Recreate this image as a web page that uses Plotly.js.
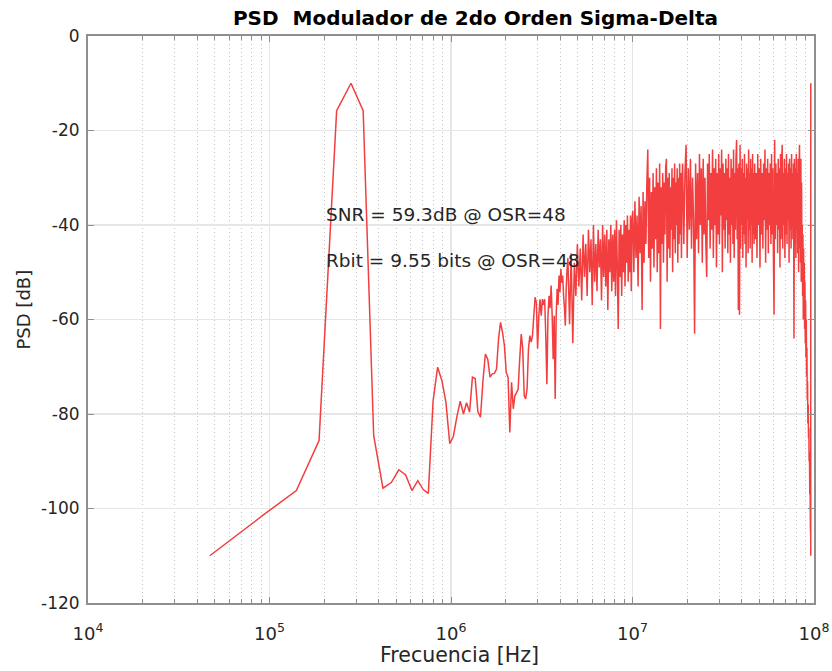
<!DOCTYPE html>
<html>
<head>
<meta charset="utf-8">
<script src="https://cdn.plot.ly/plotly-3.0.1.min.js"></script>
<style>
  html, body { margin: 0; padding: 0; background: #ffffff; }
  #chart { width: 832px; height: 671px; }
</style>
</head>
<body>
<div id="chart"></div>
<script>
// FFT setup of the simulated modulator output: fs = 192 MHz, 4096 points
const FS = 192e6;
const NFFT = 4096;
const BIN_HZ = FS / NFFT;

// PSD values in dB, grouped by FFT bin ranges
// bins 1..93 (signal tone and shaped noise up to ~4.4 MHz)
const inBandDb = [
  -110.0, -101.2, -96.2, -85.6, -15.8, -10.0, -15.8, -84.6, -95.7, -94.5,
  -91.8, -92.9, -96.2, -94.1, -96.0, -96.8, -77.2, -70.1, -72.9, -77.5,
  -86.3, -84.7, -80.5, -77.3, -80.0, -77.6, -79.6, -72.2, -72.5, -79.5,
  -80.7, -73.0, -67.3, -68.4, -72.2, -71.5, -71.4, -70.5, -64.1, -60.6,
  -62.7, -65.5, -71.2, -72.2, -83.9, -73.3, -78.9, -76.1, -75.5, -74.7,
  -68.4, -63.1, -66.2, -76.1, -76.8, -74.7, -66.2, -63.4, -64.8, -63.4,
  -59.2, -55.3, -56.4, -66.2, -59.2, -55.7, -59.2, -55.7, -56.9, -55.7,
  -63.4, -73.7, -59.2, -55.0, -57.6, -52.8, -59.2, -68.4, -59.2, -76.8,
  -59.2, -53.5, -56.9, -50.7, -54.2, -49.3, -52.2, -50.7, -55.0, -57.6,
  -61.3, -53.5, -49.3
];
// bins 94..212, every 2nd bin
const transitionDb = [
  -47, -61, -46, -65, -48, -55, -44, -53, -45, -56,
  -42, -51, -44, -55, -41, -50, -43, -57, -40, -52,
  -44, -54, -41, -49, -43, -56, -40, -51, -42, -53,
  -41, -58, -43, -50, -40, -54, -42, -52, -41, -55,
  -39, -49, -62, -41, -51, -40, -55, -42, -50, -39,
  -53, -40, -48, -38, -52, -41, -50, -38, -54, -39
];
// bins 214..400, every 3rd bin
const bandADb = [
  -37, -50, -35, -47, -38, -53, -34, -46, -36, -58,
  -33, -48, -35, -44, -31, -24, -47, -30, -52, -33,
  -45, -29, -49, -32, -43, -28, -50, -31, -46, -27,
  -62, -32, -44, -29, -48, -31, -42, -28, -26, -52,
  -30, -45, -29, -47, -32, -41, -28, -50, -30, -43,
  -27, -46, -31, -40, -28, -48, -30, -44, -27, -42,
  -29, -47, -30
];
// bins 403..997, every 6th bin
const bandBDb = [
  -27, -44, -29, -23, -47, -28, -41, -26, -45, -30,
  -39, -63, -27, -43, -29, -46, -25, -40, -28, -48,
  -26, -42, -30, -44, -51, -27, -39, -25, -45, -29,
  -41, -24, -47, -28, -40, -26, -49, -29, -42, -25,
  -44, -28, -38, -24, -50, -27, -41, -29, -45, -26,
  -39, -28, -46, -25, -42, -30, -48, -26, -40, -28,
  -44, -24, -47, -29, -41, -26, -22, -43, -28, -58,
  -27, -59, -23, -45, -28, -40, -26, -47, -29, -42,
  -25, -44, -30, -49, -27, -39, -28, -46, -24, -41,
  -29, -45, -26, -40, -28, -48, -25, -42, -29, -44
];
// bins 1005..1785, every 10th bin
const bandCDb = [
  -27, -43, -29, -47, -25, -40, -28, -49, -26, -42,
  -29, -45, -27, -39, -24, -48, -28, -41, -26, -46,
  -29, -40, -27, -44, -25, -42, -28, -47, -59, -22,
  -43, -27, -40, -29, -46, -26, -41, -28, -49, -25,
  -43, -27, -23, -45, -29, -40, -26, -47, -28, -42,
  -25, -44, -29, -39, -27, -48, -26, -41, -28, -45,
  -25, -43, -29, -40, -27, -64, -26, -44, -28, -47,
  -25, -41, -29, -46, -26, -50, -28, -23, -45
];
// bins 1790..2046, every 8th bin (roll-off towards fs/2)
const rolloffDb = [
  -27, -48, -26, -52, -31, -47, -40, -55, -42, -60,
  -45, -58, -48, -62, -52, -65, -56, -68, -60, -72,
  -66, -77, -73, -82, -78, -85, -83, -90, -88, -97,
  -95, -104, -106
];
// bins 2047, 2048
const nyquistDb = [-110, -10];

const segments = [
  { start: 1,    step: 1,  db: inBandDb },
  { start: 94,   step: 2,  db: transitionDb },
  { start: 214,  step: 3,  db: bandADb },
  { start: 403,  step: 6,  db: bandBDb },
  { start: 1005, step: 10, db: bandCDb },
  { start: 1790, step: 8,  db: rolloffDb },
  { start: 2047, step: 1,  db: nyquistDb }
];

const freqHz = [];
const psdDb = [];
segments.forEach(seg => {
  seg.db.forEach((v, i) => {
    freqHz.push((seg.start + i * seg.step) * BIN_HZ);
    psdDb.push(v);
  });
});

const xTickVals = [1e4, 1e5, 1e6, 1e7, 1e8];
const xTickText = ['10<sup>4</sup>', '10<sup>5</sup>', '10<sup>6</sup>', '10<sup>7</sup>', '10<sup>8</sup>'];
const yTickVals = [-120, -100, -80, -60, -40, -20, 0];
const yTickText = ['-120', '-100', '-80', '-60', '-40', '-20', '0'];
const snrText = 'SNR = 59.3dB @ OSR=48';
const rbitText = 'Rbit = 9.55 bits @ OSR=48';

// minor decade subdivisions 2..9 for the log axis
const minorVals = [];
for (let d = 4; d < 8; d++) {
  for (let m = 2; m <= 9; m++) minorVals.push(m * Math.pow(10, d));
}

const TXT = '#262626';
const FRAME = '#8f8f8f';

const trace = {
  x: freqHz,
  y: psdDb,
  type: 'scatter',
  mode: 'lines',
  line: { color: 'rgb(242,62,62)', width: 1.5, simplify: false },
  hoverinfo: 'x+y'
};

const layout = {
  width: 832,
  height: 671,
  paper_bgcolor: '#ffffff',
  plot_bgcolor: '#ffffff',
  margin: { l: 88, r: 18, t: 36, b: 68 },
  showlegend: false,
  title: {
    text: 'PSD\u00a0 Modulador de 2do Orden Sigma-Delta',
    font: { family: 'DejaVu Sans', size: 20, color: '#000000', weight: 'bold' },
    xref: 'container', yref: 'container',
    x: 0.5715, y: 0.973, xanchor: 'center', yanchor: 'middle'
  },
  xaxis: {
    type: 'log',
    range: [4, 8],
    tickmode: 'array',
    tickvals: xTickVals,
    ticktext: xTickText,
    ticks: 'inside',
    ticklen: 6,
    tickwidth: 1,
    tickcolor: FRAME,
    showline: true,
    linecolor: FRAME,
    linewidth: 2,
    mirror: 'ticks',
    showgrid: true,
    gridcolor: '#e6e6e6',
    gridwidth: 1.5,
    zeroline: false,
    ticklabelstandoff: 13,
    tickfont: { family: 'DejaVu Sans', size: 18, color: TXT },
    minor: {
      tickmode: 'array',
      tickvals: minorVals,
      ticks: 'inside',
      ticklen: 4,
      tickcolor: FRAME,
      showgrid: true,
      gridcolor: '#c4c4c4',
      griddash: '1px,3px',
      gridwidth: 1
    }
  },
  yaxis: {
    range: [-120, 0],
    tickmode: 'array',
    tickvals: yTickVals,
    ticktext: yTickText,
    ticks: 'inside',
    ticklen: 6,
    tickcolor: FRAME,
    showline: true,
    linecolor: FRAME,
    linewidth: 2,
    mirror: 'ticks',
    showgrid: true,
    gridcolor: '#e6e6e6',
    gridwidth: 1.5,
    zeroline: false,
    ticklabelstandoff: 3,
    tickfont: { family: 'DejaVu Sans', size: 17, color: TXT }
  },
  annotations: [
    {
      text: snrText, xref: 'x', yref: 'y', x: 5.302, y: -37.7,
      xanchor: 'left', yanchor: 'middle', showarrow: false,
      font: { family: 'DejaVu Sans', size: 18.5, color: TXT }
    },
    {
      text: rbitText, xref: 'x', yref: 'y', x: 5.302, y: -47.6,
      xanchor: 'left', yanchor: 'middle', showarrow: false,
      font: { family: 'DejaVu Sans', size: 18.5, color: TXT }
    },
    {
      text: 'Frecuencia [Hz]', xref: 'paper', yref: 'paper', x: 0.512, y: -0.0917,
      xanchor: 'center', yanchor: 'middle', showarrow: false,
      font: { family: 'DejaVu Sans', size: 20.5, color: TXT }
    },
    {
      text: 'PSD [dB]', xref: 'paper', yref: 'paper', x: -0.0888, y: 0.5168,
      xanchor: 'center', yanchor: 'middle', showarrow: false, textangle: -90,
      font: { family: 'DejaVu Sans', size: 18, color: TXT }
    }
  ]
};

Plotly.newPlot('chart', [trace], layout, { displayModeBar: false, staticPlot: true });
</script>
</body>
</html>
